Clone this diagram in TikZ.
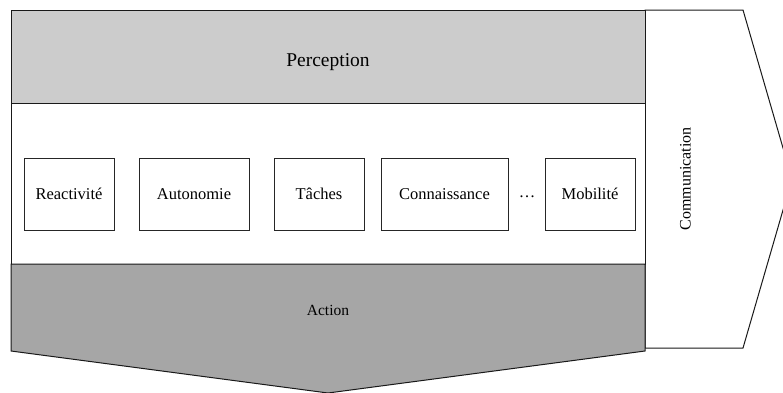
\documentclass[tikz,border=0pt]{standalone}
\usepackage{fontspec}
\setmainfont{Liberation Serif}
\definecolor{percgray}{HTML}{CCCCCC}
\definecolor{actgray}{HTML}{A6A6A6}
\begin{document}
\begin{tikzpicture}[x=1pt,y=-1pt,
  band/.style={draw=black!90, line width=1pt},
  itembox/.style={draw=black!85, line width=0.9pt, fill=white, inner sep=0pt, font=\fontsize{16.5}{18}\selectfont},
  lbl/.style={inner sep=0pt, font=\fontsize{16}{18}\selectfont}]
\useasboundingbox (0,0) rectangle (783,392);
\begin{scope}
\clip (0,0) rectangle (783,392);
% Communication arrow
\draw[band, fill=white, line join=miter] (645,10) -- (743,10) -- (792,179) -- (743,348) -- (645,348) -- cycle;
% Perception band
\draw[band, fill=percgray] (11,10) rectangle (645,103);
% Middle band
\draw[band, fill=white] (11,103) rectangle (645,264);
% Action band
\draw[band, fill=actgray, line join=miter] (11,264) -- (645,264) -- (645,351) -- (328,393) -- (11,351) -- cycle;
\end{scope}
\node[lbl, anchor=base, font=\fontsize{19.5}{22}\selectfont] (perc) at (328,66) {Perception};
\node[lbl, anchor=base, font=\fontsize{15.5}{18}\selectfont] (act) at (328,315) {Action};
\node[lbl, rotate=90] (comm) at (685.5,179) {Communication};
\node[itembox, minimum width=90pt, minimum height=72pt] (r) at (69,194) {Reactivité};
\node[itembox, minimum width=110pt, minimum height=72pt] (a) at (194,194) {Autonomie};
\node[itembox, minimum width=90pt, minimum height=72pt] (t) at (319,194) {Tâches};
\node[itembox, minimum width=127pt, minimum height=72pt] (c) at (444.5,194) {Connaissance};
\node[lbl, font=\fontsize{16.5}{18}\selectfont] (dots) at (527,197) {…};
\node[itembox, minimum width=90pt, minimum height=72pt] (m) at (590,194) {Mobilité};
\end{tikzpicture}
\end{document}
